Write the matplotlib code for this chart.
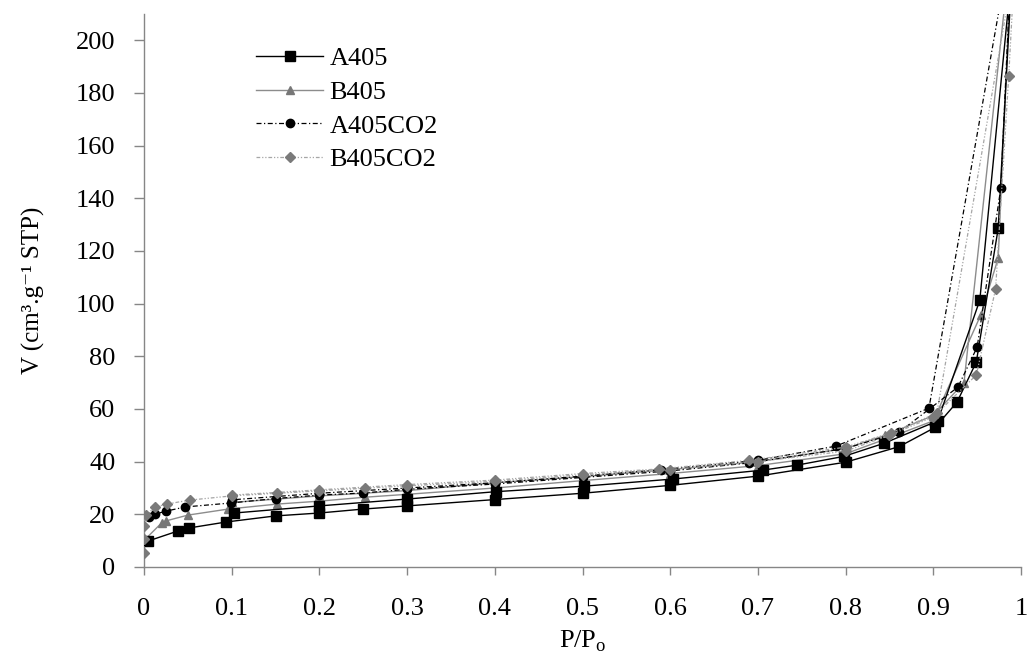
import matplotlib
matplotlib.use("Agg")
import matplotlib.pyplot as plt

plt.rcParams["font.family"] = ["Liberation Serif", "DejaVu Serif"]
plt.rcParams["mathtext.fontset"] = "custom"
plt.rcParams["mathtext.rm"] = "Liberation Serif"

# --- isotherms: adsorption branch up to ~0.99, then desorption back down ---
a405_p = [0.005, 0.039, 0.051, 0.094, 0.150, 0.200, 0.250, 0.300, 0.400, 0.500, 0.600, 0.700,
          0.800, 0.861, 0.902, 0.927, 0.949, 0.974, 0.990,
          0.953, 0.905, 0.844, 0.798, 0.745, 0.706, 0.603, 0.502, 0.401, 0.300, 0.200, 0.103]
a405_v = [9.9, 13.7, 14.8, 17.1, 19.4, 20.5, 22.0, 23.2, 25.6, 28.0, 31.0, 34.5,
          39.8, 45.7, 53.0, 62.6, 77.8, 128.6, 228.0,
          101.3, 55.5, 47.0, 42.0, 38.7, 36.8, 33.4, 30.7, 28.6, 25.8, 23.2, 20.5]

b405_p = [0.001, 0.020, 0.025, 0.050, 0.096, 0.152, 0.200, 0.252, 0.300, 0.400, 0.500, 0.600,
          0.700, 0.800, 0.845, 0.900, 0.954, 0.974, 0.990,
          0.935, 0.900, 0.845, 0.800, 0.700, 0.600, 0.500, 0.400, 0.300, 0.200, 0.100]
b405_v = [10.4, 16.7, 17.5, 19.7, 22.0, 23.9, 25.0, 26.5, 27.6, 30.0, 32.8, 35.5,
          38.5, 43.0, 48.5, 55.5, 95.6, 117.3, 240.0,
          70.0, 57.5, 50.0, 45.0, 40.0, 37.0, 34.3, 32.0, 29.0, 27.0, 24.5]

a405co2_p = [0.006, 0.013, 0.025, 0.047, 0.099, 0.150, 0.200, 0.250, 0.300, 0.400, 0.500, 0.600,
             0.690, 0.800, 0.861, 0.928, 0.950, 0.977, 0.990,
             0.895, 0.789, 0.700, 0.590, 0.500, 0.400, 0.300, 0.200, 0.100]
a405co2_v = [19.0, 20.1, 21.2, 22.8, 24.3, 26.0, 27.3, 28.1, 29.5, 31.5, 34.0, 36.5,
             39.5, 45.0, 51.2, 68.3, 83.5, 144.0, 240.0,
             60.3, 45.9, 40.5, 37.0, 34.5, 32.0, 30.0, 28.0, 25.5]

b405co2_p = [0.000, 0.000, 0.000, 0.002, 0.013, 0.026, 0.052, 0.100, 0.152, 0.200, 0.252, 0.300,
             0.400, 0.500, 0.600, 0.700, 0.800, 0.850, 0.900, 0.949, 0.971, 0.986, 0.993,
             0.904, 0.852, 0.800, 0.690, 0.587, 0.500, 0.400, 0.300, 0.200, 0.100]
b405co2_v = [5.3, 10.6, 15.6, 19.7, 22.8, 23.9, 25.4, 27.0, 28.0, 28.9, 29.9, 30.8,
             32.5, 35.0, 37.0, 40.0, 44.0, 50.0, 57.0, 72.9, 105.5, 186.5, 230.0,
             58.4, 51.0, 45.5, 40.5, 37.2, 35.5, 33.0, 31.3, 29.3, 27.3]

x_ticks = [0, 0.1, 0.2, 0.3, 0.4, 0.5, 0.6, 0.7, 0.8, 0.9, 1]
y_ticks = list(range(0, 201, 20))

FS = 19

fig = plt.figure(figsize=(10.33, 6.57), dpi=100)
ax = fig.add_axes([0.1394, 0.137, 0.8490, 0.8417])

ax.plot(a405_p, a405_v, color="black", lw=1.0, marker="s", ms=6.5, mec="black", mfc="black",
        label="A405", zorder=4)
ax.plot(b405_p, b405_v, color="#8c8c8c", lw=1.0, marker="^", ms=6, mec="#777777", mfc="#777777",
        label="B405", zorder=3)
ax.plot(a405co2_p, a405co2_v, color="black", lw=0.9, dashes=(4, 2, 1, 2), marker="o", ms=6,
        mec="black", mfc="black", label="A405CO2", zorder=5)
ax.plot(b405co2_p, b405co2_v, color="#a6a6a6", lw=0.9, dashes=(3, 1.5, 1, 1.5, 1, 1.5), marker="D",
        ms=5.5, mec="#7a7a7a", mfc="#7a7a7a", label="B405CO2", zorder=6)

ax.set_xlim(0, 1)
ax.set_ylim(0, 210)
ax.set_xticks(x_ticks)
ax.set_xticklabels([f"{t:g}" for t in x_ticks])
ax.set_yticks(y_ticks)

for s in ("top", "right"):
    ax.spines[s].set_visible(False)
for s in ("left", "bottom"):
    ax.spines[s].set_color("#868686")
    ax.spines[s].set_linewidth(1.0)
ax.tick_params(axis="x", direction="out", length=6, width=1, color="#868686", pad=16.5, labelsize=FS)
ax.tick_params(axis="y", direction="out", length=7.5, width=1, color="#868686", pad=13, labelsize=FS)

ax.set_xlabel(r"P/P$_{\rm o}$", fontsize=FS, labelpad=6)
ax.set_ylabel("V (cm³.g⁻¹ STP)", fontsize=18, labelpad=22)

ax.legend(loc="upper left", bbox_to_anchor=(0.1277, 0.941), frameon=False, fontsize=FS,
          handlelength=2.54, handletextpad=0.25, labelspacing=0.39, borderpad=0, borderaxespad=0)

fig.savefig("out.png", dpi=100)
